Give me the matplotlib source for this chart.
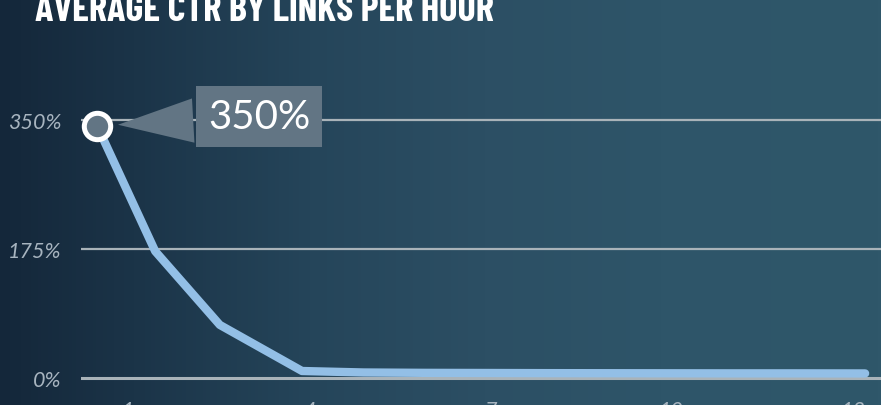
import matplotlib
matplotlib.use("Agg")
import matplotlib.pyplot as plt
import numpy as np
from matplotlib.colors import LinearSegmentedColormap

# links per hour (x position) and average CTR (%)
links = [0.49, 1.45, 2.52, 3.88, 4.9, 5.9, 7.0, 8.0, 9.0, 10.0, 11.0, 12.0, 13.2]
ctr = [342, 172, 72, 9.5, 7.5, 7.0, 6.8, 6.6, 6.5, 6.4, 6.3, 6.3, 6.2]
x_ticks = [1, 4, 7, 10, 13]
y_ticks = [0, 175, 350]
y_labels = ["0%", "175%", "350%"]
title = "AVERAGE CTR BY LINKS PER HOUR"
callout = "350%"

W, H = 881, 406
fig = plt.figure(figsize=(W / 100, H / 100), dpi=100)

# background gradient
bg = fig.add_axes([0, 0, 1, 1])
cmap = LinearSegmentedColormap.from_list(
    "bg", [(0, "#14273a"), (0.15, "#1b3448"), (0.35, "#25455a"),
           (0.55, "#2c4f64"), (0.75, "#2e5569"), (1, "#2f576a")])
bg.imshow(np.linspace(0, 1, 256)[None, :], aspect="auto", cmap=cmap,
          extent=[0, 1, 0, 1])
bg.set_axis_off()

# plot area (pixel based placement)
left, right, top, bottom = 81, 881, 60, 395
ax = fig.add_axes([left / W, 1 - bottom / H, (right - left) / W, (bottom - top) / H])
ax.set_facecolor("none")
px_x = 60.42
ax.set_xlim(1 + (left - 128) / px_x, 1 + (right - 128) / px_x)
px_y = 258 / 350
ax.set_ylim(-(bottom - 379) / px_y, (379 - top) / px_y)

for v in y_ticks:
    ax.axhline(v, color="#a9b3b9", lw=2.2 if v == 0 else 1.6, zorder=1)

ax.plot(links, ctr, color="#93bfe6", lw=6, solid_capstyle="round",
        solid_joinstyle="round", zorder=2)

ax.annotate(callout, xy=(links[0], ctr[0]), xytext=(162, 9),
            textcoords="offset pixels", ha="center", va="center",
            fontsize=29, family="Lato", color="white", zorder=3,
            bbox=dict(boxstyle="square,pad=0.3", fc="#627584", ec="none"),
            arrowprops=dict(arrowstyle="wedge,tail_width=1.1", fc="#627584",
                            ec="none", shrinkB=15))

ax.plot(links[:1], ctr[:1], "o", ms=19, mfc="#627584", mec="white",
        mew=3.6, zorder=4)

for s in ax.spines.values():
    s.set_visible(False)
ax.set_yticks(y_ticks)
ax.set_yticklabels(y_labels)
ax.set_xticks(x_ticks)
ax.set_xticklabels([str(t) for t in x_ticks])
ax.tick_params(length=0, colors="#a7b4bf", labelsize=15.5)
ax.tick_params(axis="y", pad=14)
ax.tick_params(axis="x", pad=4)
for lab in ax.get_xticklabels() + ax.get_yticklabels():
    lab.set_fontstyle("italic")
    lab.set_family("Lato")

fig.text(35 / W, 1 - 21 / H, title, color="white", fontsize=27.6,
         fontweight="bold", family=["Barlow Condensed", "DejaVu Sans"],
         va="baseline", ha="left")

fig.savefig("out.png", dpi=100)
